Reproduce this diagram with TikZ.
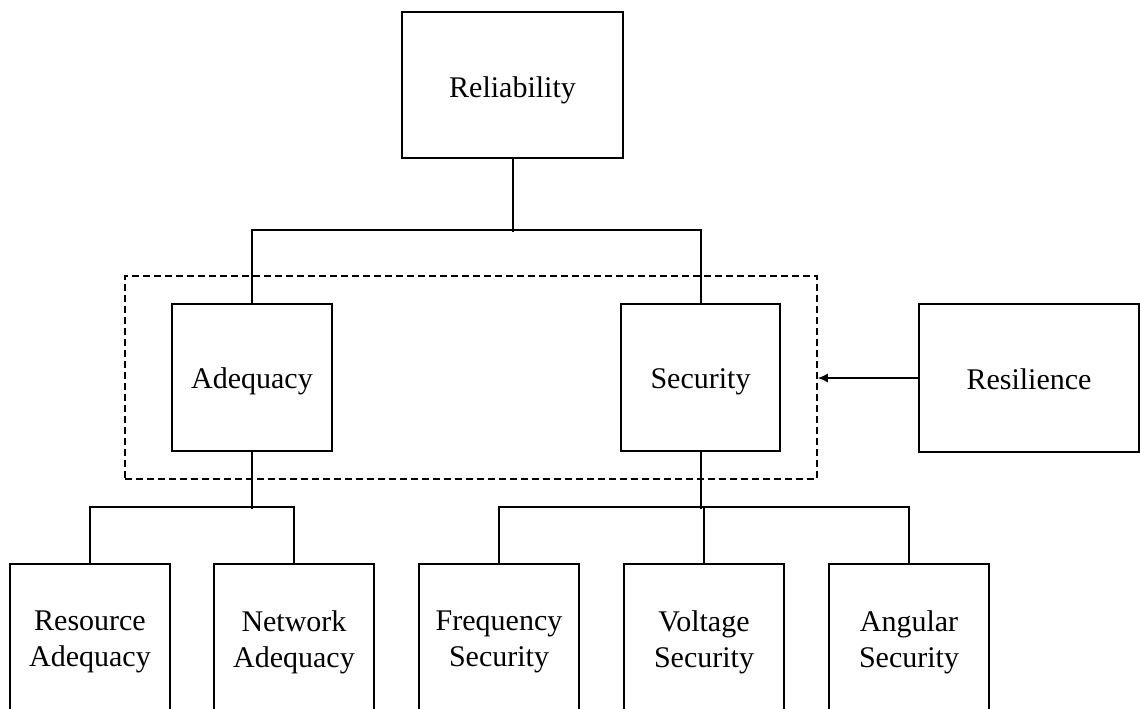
\documentclass[tikz,border=0pt]{standalone}
\usepackage{fontspec}
\setmainfont{Liberation Serif}
\usetikzlibrary{arrows.meta}
\begin{document}
\begin{tikzpicture}[x=1pt,y=-1pt,
  box/.style={draw, line width=1.6pt, inner sep=0pt, align=center,
    font=\fontsize{30}{36}\selectfont},
  onebox/.style={box, text height=22pt, text depth=0pt},
  topbox/.style={onebox, minimum width=160, minimum height=147},
  leafbox/.style={box, minimum width=160, minimum height=156},
  wire/.style={line width=2pt},
  group/.style={draw, dash pattern=on 7pt off 4pt, line width=1.5pt,
    inner sep=0pt, minimum width=692, minimum height=203}]
\useasboundingbox (0,0) rectangle (1140,709);
\clip (0,0) rectangle (1140,709);

% top level
\node[onebox, minimum width=221, minimum height=146, text height=24pt] (rel) at (512.5,85) {Reliability};

% second level and the dashed grouping
\node[group] (grp) at (471,377.5) {};
\node[topbox] (ade) at (252,377.5) {Adequacy};
\node[topbox, minimum width=159] (sec) at (700.5,377.5) {Security};
\node[onebox, minimum width=220, minimum height=148] (res) at (1029,378) {Resilience};

% leaves
\node[leafbox] (rsa) at (90,642) {Resource\\Adequacy};
\node[leafbox] (nwa) at (294,642) {Network\\Adequacy};
\node[leafbox] (fre) at (499,642) {Frequency\\Security};
\node[leafbox] (vol) at (704,642) {Voltage\\Security};
\node[leafbox] (ang) at (909,642) {Angular\\Security};

% tree connectors
\draw[wire] (rel.south) -- ++(0,73);
\draw[wire] (ade.north) -- ++(0,-73) -| (sec.north);
\draw[wire] (ade.south) -- ++(0,57);
\draw[wire] (rsa.north) -- ++(0,-56) -| (nwa.north);
\draw[wire] (sec.south) -- ++(0,57);
\draw[wire] (fre.north) -- ++(0,-56) -| (ang.north);
\draw[wire] (vol.north) -- ++(0,-56);

% resilience acts on the adequacy/security group
\draw[line width=1.5pt, -{Latex[length=10pt,width=9pt]}] (res.west) -- (res.west -| grp.east);
\end{tikzpicture}
\end{document}
